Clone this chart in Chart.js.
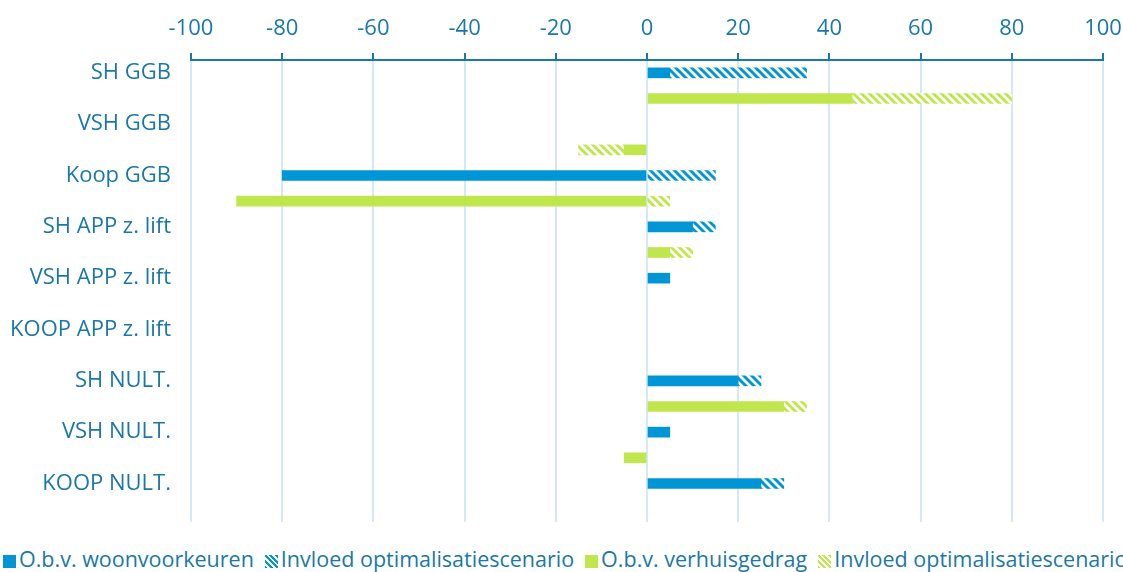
<!DOCTYPE html>
<html>
<head>
<meta charset="utf-8">
<script src="https://cdn.jsdelivr.net/npm/chart.js@4"></script>
<style>
    body { margin: 0; background: #fff; width: 1123px; height: 572px; overflow: hidden; position: relative; }
    #chartBox { position: absolute; left: 0; top: 0; width: 1123px; height: 530px; }
    #legend {
        position: absolute; left: 3px; top: 547px; width: 1120px; height: 25px;
        white-space: nowrap; overflow: hidden;
        font-family: "Open Sans", sans-serif; font-size: 21.5px; color: #1a78a8; line-height: 24px;
    }
    #legend .item { display: inline-block; margin-right: 11px; }
    #legend .box { display: inline-block; width: 13px; height: 13px; margin-right: 3px; vertical-align: -1px; }
</style>
</head>
<body>
<div id="chartBox"><canvas id="woonChart"></canvas></div>
<div id="legend"></div>
<script>
// charts.js
const categories = ["SH GGB", "VSH GGB", "Koop GGB", "SH APP z. lift", "VSH APP z. lift",
    "KOOP APP z. lift", "SH NULT.", "VSH NULT.", "KOOP NULT."];
const seriesNames = ["O.b.v. woonvoorkeuren", "Invloed optimalisatiescenario",
    "O.b.v. verhuisgedrag", "Invloed optimalisatiescenario"];
const voorkeurBasis = [5, null, -80, 10, 5, null, 20, 5, 25];
const voorkeurOptim = [30, null, 15, 5, null, null, 5, null, 5];
const gedragBasis = [45, -5, -90, 5, null, null, 30, -5, null];
const gedragOptim = [35, -10, 5, 5, null, null, 5, null, null];
const xMin = -100, xMax = 100, xStep = 20;

const BLUE = "#0096d6";
const GREEN = "#c0e64e";
const TEXT = "#1a78a8";

// each category gets two rows: woonvoorkeuren on top, verhuisgedrag below
const rowLabels = categories.flatMap(c => [c, ""]);
const topRow = arr => arr.flatMap(v => [v, null]);
const bottomRow = arr => arr.flatMap(v => [null, v]);

function hatch(color) {
    const s = 8;
    const c = document.createElement("canvas");
    c.width = s; c.height = s;
    const ctx = c.getContext("2d");
    ctx.fillStyle = "#fff";
    ctx.fillRect(0, 0, s, s);
    ctx.strokeStyle = color;
    ctx.lineWidth = 3;
    for (const off of [-s, 0, s]) {
        ctx.beginPath();
        ctx.moveTo(-s, -s + off);
        ctx.lineTo(2 * s, 2 * s + off);
        ctx.stroke();
    }
    return ctx.createPattern(c, "repeat");
}

const datasets = [
    { label: seriesNames[0], data: topRow(voorkeurBasis), backgroundColor: BLUE },
    { label: seriesNames[1], data: topRow(voorkeurOptim), backgroundColor: hatch(BLUE) },
    { label: seriesNames[2], data: bottomRow(gedragBasis), backgroundColor: GREEN },
    { label: seriesNames[3], data: bottomRow(gedragOptim), backgroundColor: hatch(GREEN) },
];

new Chart(document.getElementById("woonChart"), {
    type: "bar",
    data: { labels: rowLabels, datasets: datasets.map(d => ({ ...d, barThickness: 10, borderWidth: 0 })) },
    options: {
        indexAxis: "y",
        responsive: true,
        maintainAspectRatio: false,
        animation: false,
        layout: { padding: { left: 0, right: 20, top: 0, bottom: 8 } },
        plugins: { legend: { display: false }, tooltip: { enabled: false } },
        scales: {
            x: {
                position: "top",
                stacked: true,
                min: xMin,
                max: xMax,
                ticks: { stepSize: xStep, color: TEXT, padding: 11, font: { family: "Open Sans", size: 22 } },
                grid: { color: "#d4e9f5", lineWidth: 2, tickColor: TEXT, tickLength: 7, tickWidth: 2 },
                border: { color: TEXT, width: 2 },
                afterFit: scale => {
                    scale.height = 60;
                    scale.paddingLeft = 0;
                    scale.paddingRight = 0;
                },
            },
            y: {
                stacked: true,
                ticks: { color: TEXT, padding: 20, autoSkip: false, font: { family: "Open Sans", size: 22 } },
                grid: { display: false, drawTicks: false },
                border: { display: false },
                afterFit: scale => {
                    scale.width = 191;
                    scale.paddingTop = 0;
                    scale.paddingBottom = 0;
                },
            },
        },
    },
});

// legend row under the chart
const legend = document.getElementById("legend");
const swatches = [
    BLUE,
    `repeating-linear-gradient(45deg, ${BLUE} 0 2px, #fff 2px 4px)`,
    GREEN,
    `repeating-linear-gradient(45deg, ${GREEN} 0 2px, #fff 2px 4px)`,
];
seriesNames.forEach((name, i) => {
    const item = document.createElement("span");
    item.className = "item";
    const box = document.createElement("span");
    box.className = "box";
    box.style.background = swatches[i];
    item.appendChild(box);
    item.appendChild(document.createTextNode(name));
    legend.appendChild(item);
});
</script>
</body>
</html>
